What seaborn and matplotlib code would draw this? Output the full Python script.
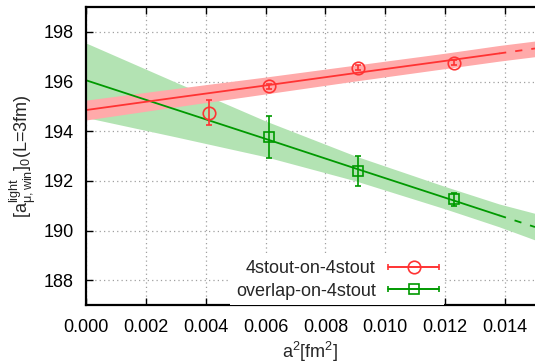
import numpy as np
import pandas as pd
import matplotlib
matplotlib.use("Agg")
import matplotlib.pyplot as plt
import seaborn as sns
from matplotlib.legend_handler import HandlerErrorbar

sns.set_theme(style="white")
plt.rcParams["font.family"] = ["Liberation Sans", "DejaVu Sans"]
plt.rcParams["mathtext.fontset"] = "custom"
plt.rcParams["mathtext.rm"] = "Liberation Sans"
plt.rcParams["mathtext.it"] = "Liberation Sans"
plt.rcParams["mathtext.bf"] = "Liberation Sans:bold"

# measured points
x_stout = [0.0041, 0.0061, 0.0091, 0.0123]
y_stout = [194.75, 195.80, 196.55, 196.75]
e_stout = [0.50, 0.10, 0.10, 0.10]

x_ovl = [0.0061, 0.0091, 0.0123]
y_ovl = [193.75, 192.40, 191.25]
e_ovl = [0.85, 0.60, 0.25]

# fit curves and error bands
fit_x = [0.0, 0.003, 0.006, 0.009, 0.012, 0.0138, 0.015]
fit_stout = [194.85, 195.35, 195.84, 196.34, 196.83, 197.13, 197.33]
band_stout_lo = [194.45, 194.98, 195.50, 196.02, 196.52, 196.82, 197.00]
band_stout_hi = [195.25, 195.72, 196.18, 196.66, 197.14, 197.45, 197.63]
fit_ovl = [196.05, 194.87, 193.69, 192.50, 191.32, 190.61, 190.14]
band_ovl_lo = [194.55, 193.77, 192.97, 192.00, 190.87, 190.15, 189.62]
band_ovl_hi = [197.55, 195.97, 194.41, 193.00, 191.77, 191.07, 190.69]

red, red_band = "#ff3333", "#ffaaaa"
green, green_band = "#009900", "#b3e3b3"

fits = pd.DataFrame({"x": fit_x, "stout": fit_stout, "ovl": fit_ovl})
solid = fits[fits["x"] <= 0.0138]
dashed = fits[fits["x"] >= 0.0138]

fig = plt.figure(figsize=(5.35, 3.64), dpi=100)
ax = fig.add_axes([86 / 535, 1 - 305 / 364, 449 / 535, 298 / 364])

ax.fill_between(fit_x, band_ovl_lo, band_ovl_hi, color=green_band, lw=0, zorder=1)
ax.fill_between(fit_x, band_stout_lo, band_stout_hi, color=red_band, lw=0, zorder=1)

sns.lineplot(data=solid, x="x", y="ovl", color=green, lw=1.3, ax=ax, zorder=2)
sns.lineplot(data=dashed, x="x", y="ovl", color=green, lw=1.3, ax=ax, zorder=2,
             linestyle=(0, (4, 5)))
sns.lineplot(data=solid, x="x", y="stout", color=red, lw=1.3, ax=ax, zorder=2)
sns.lineplot(data=dashed, x="x", y="stout", color=red, lw=1.3, ax=ax, zorder=2,
             linestyle=(0, (4, 5)))

ax.errorbar(x_stout, y_stout, yerr=e_stout, fmt="o", color=red, mfc="none",
            ms=9, mew=1.2, elinewidth=1.2, capsize=2.5, capthick=1.2, zorder=3)
ax.errorbar(x_ovl, y_ovl, yerr=e_ovl, fmt="s", color=green, mfc="none",
            ms=7.5, mew=1.2, elinewidth=1.2, capsize=2.5, capthick=1.2, zorder=3)

# legend proxies with horizontal error bars
h1 = ax.errorbar([np.nan], [np.nan], xerr=[1.0], fmt="-o", color=red, mfc="none",
                 ms=9, mew=1.2, lw=1.2, capsize=2.5, capthick=1.2)
h2 = ax.errorbar([np.nan], [np.nan], xerr=[1.0], fmt="-s", color=green, mfc="none",
                 ms=7.5, mew=1.2, lw=1.2, capsize=2.5, capthick=1.2)

ax.set_xlim(0.0, 0.015)
ax.set_ylim(187.0, 199.0)
ax.set_xticks([0.000, 0.002, 0.004, 0.006, 0.008, 0.010, 0.012, 0.014])
ax.set_xticklabels(["0.000", "0.002", "0.004", "0.006", "0.008", "0.010", "0.012", "0.014"])
ax.set_yticks([188, 190, 192, 194, 196, 198])

ax.grid(True, color="#a0a0a0", linestyle=(0, (1, 2.5)), lw=0.9)
ax.tick_params(direction="in", length=5, width=1, labelsize=13, pad=10,
               top=True, bottom=True, left=True, right=False, colors="black")
ax.tick_params(axis="y", pad=9)
for side in ["left", "top", "bottom"]:
    ax.spines[side].set_linewidth(1.6)
    ax.spines[side].set_color("black")
ax.spines["right"].set_visible(False)

ax.set_xlabel(r"a$^2$[fm$^2$]", fontsize=13, labelpad=3)
ax.set_ylabel(r"$[\mathrm{a}^{\mathrm{light}}_{\mu,\mathrm{win}}]_0$(L=3fm)",
              fontsize=13, labelpad=4)

leg = ax.legend([h1, h2], ["4stout-on-4stout", "overlap-on-4stout"],
                loc="lower right", bbox_to_anchor=(0.798, 0.0), borderaxespad=0,
                markerfirst=False, fontsize=13, handlelength=2.8, handletextpad=0.7,
                labelspacing=0.3, borderpad=0.3, frameon=True, framealpha=1,
                facecolor="white", edgecolor="none", fancybox=False,
                handler_map={type(h1): HandlerErrorbar(xerr_size=1.4, numpoints=1)})
leg.set_zorder(5)

fig.savefig("out.png", dpi=100)
